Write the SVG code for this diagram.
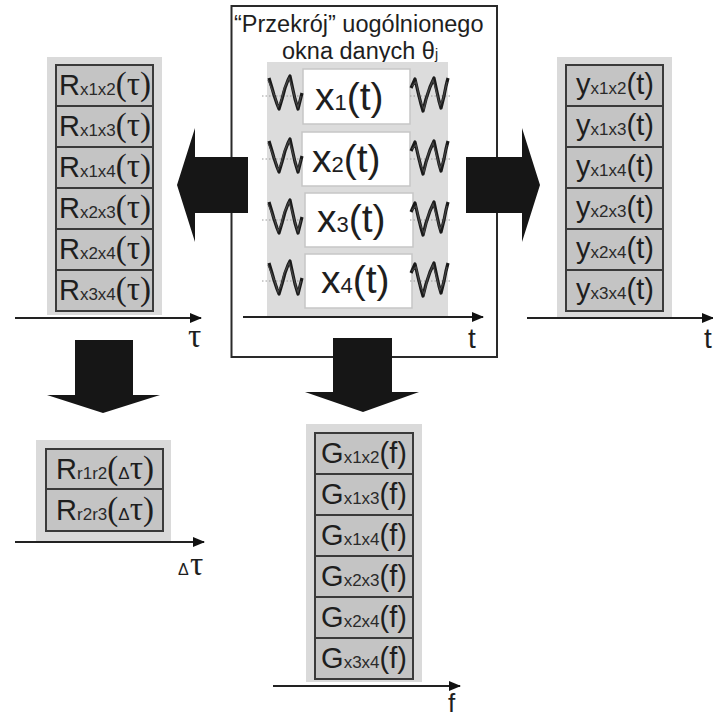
<svg xmlns="http://www.w3.org/2000/svg" width="713" height="717" viewBox="0 0 713 717">
  <style>
    .panel { fill: #dadada; }
    .cell { fill: #c4c4c4; stroke: #3a3a3a; stroke-width: 2; }
    .wcell { fill: #ffffff; stroke: #c6c6c6; stroke-width: 1.5; }
    .frame { fill: none; stroke: #2a2a2a; stroke-width: 2; }
    .axis { stroke: #222; stroke-width: 2; fill: none; marker-end: url(#ah); }
    .block { fill: #161616; }
    .lbl { font-family: "Liberation Sans", Arial, sans-serif; fill: #1e1e1e; }
    .big { font-family: "Liberation Sans", Arial, sans-serif; font-size: 29px; fill: #1e1e1e; }
    .sub { font-size: 17px; fill: #2a2a2a; }
    .sym { font-family: "Liberation Serif", "Times New Roman", serif; font-size: 33px; }
    .xl { font-family: "Liberation Sans", Arial, sans-serif; font-size: 39px; fill: #1e1e1e; }
    .xs { font-size: 22px; }
    .wave { fill: none; stroke: #1a1a1a; stroke-width: 3.2; stroke-linejoin: round; }
    .wave2 { fill: none; stroke: #444; stroke-width: 1.2; }
    .mid { stroke: #9a9a9a; stroke-width: 1; stroke-dasharray: 1.5 2; }
  </style>
  <defs>
    <marker id="ah" viewBox="0 0 12 10" refX="11" refY="5" markerWidth="12" markerHeight="10" markerUnits="userSpaceOnUse" orient="auto">
      <path d="M0,0 L12,5 L0,10 Z" fill="#111"/>
    </marker>
    <!-- noisy oscillation shown on both sides of each signal -->
    <g id="waveL">
      <line class="mid" x1="262" y1="0" x2="304" y2="0"/>
      <polyline class="wave" points="269,-18 272,-8 274,-1 277,8 279,13 282,3 285,-8 288,-16 290,-20 293,-6 295,3 298,13 300,5 302,-3"/>
      <polyline class="wave2" points="268,-16 271,-9 275,1 278,11 281,5 284,-7 289,-18 292,-9 296,6 298,11 301,0"/>
    </g>
    <g id="waveR">
      <line class="mid" x1="410" y1="0" x2="452" y2="0"/>
      <polyline class="wave" points="411,-8 415,-17 418,-4 421,8 423,15 426,3 430,-9 434,-18 437,-4 439,5 441,12 444,0 446,-10 448,-18"/>
      <polyline class="wave2" points="412,-10 416,-14 420,4 424,13 428,-4 433,-16 436,-6 440,9 443,3 447,-14"/>
    </g>
  </defs>

  <!-- central window of data -->
  <g id="window">
    <rect class="frame" x="231.5" y="6" width="265.5" height="351"/>
    <text class="lbl" x="234" y="32" font-size="23.5">“Przekrój” uogólnionego</text>
    <text class="lbl" x="282" y="59" font-size="23.5">okna danych θ<tspan font-size="14">j</tspan></text>
    <rect x="267" y="62" width="181" height="255" fill="#dcdcdc"/>
  </g>

  <g id="x1">
    <rect class="wcell" x="303" y="69" width="107" height="55"/>
    <use href="#waveL" transform="translate(0,96)"/>
    <use href="#waveR" transform="translate(0,96)"/>
    <text class="xl" x="315" y="110">x<tspan class="xs">1</tspan>(t)</text>
  </g>
  <g id="x2">
    <rect class="wcell" x="302" y="132" width="108" height="54"/>
    <use href="#waveL" transform="translate(0,159)"/>
    <use href="#waveR" transform="translate(0,159)"/>
    <text class="xl" x="312" y="172">x<tspan class="xs">2</tspan>(t)</text>
  </g>
  <g id="x3">
    <rect class="wcell" x="305" y="193" width="108" height="54"/>
    <use href="#waveL" transform="translate(0,220)"/>
    <use href="#waveR" transform="translate(0,220)"/>
    <text class="xl" x="317" y="232">x<tspan class="xs">3</tspan>(t)</text>
  </g>
  <g id="x4">
    <rect class="wcell" x="305" y="254" width="107" height="54"/>
    <use href="#waveL" transform="translate(0,281)"/>
    <use href="#waveR" transform="translate(0,281)"/>
    <text class="xl" x="321" y="293">x<tspan class="xs">4</tspan>(t)</text>
  </g>

  <!-- correlation functions R(τ) -->
  <g id="corr">
    <rect class="panel" x="47" y="57" width="115" height="258"/>
    <rect class="cell" x="56" y="65" width="97" height="41"/>
    <rect class="cell" x="56" y="106" width="97" height="41"/>
    <rect class="cell" x="56" y="147" width="97" height="41"/>
    <rect class="cell" x="56" y="188" width="97" height="41"/>
    <rect class="cell" x="56" y="229" width="97" height="41"/>
    <rect class="cell" x="56" y="270" width="97" height="41"/>
    <text class="big" x="105" y="95" text-anchor="middle">R<tspan class="sub">x1x2</tspan><tspan class="sym">(τ)</tspan></text>
    <text class="big" x="105" y="136" text-anchor="middle">R<tspan class="sub">x1x3</tspan><tspan class="sym">(τ)</tspan></text>
    <text class="big" x="105" y="177" text-anchor="middle">R<tspan class="sub">x1x4</tspan><tspan class="sym">(τ)</tspan></text>
    <text class="big" x="105" y="218" text-anchor="middle">R<tspan class="sub">x2x3</tspan><tspan class="sym">(τ)</tspan></text>
    <text class="big" x="105" y="259" text-anchor="middle">R<tspan class="sub">x2x4</tspan><tspan class="sym">(τ)</tspan></text>
    <text class="big" x="105" y="300" text-anchor="middle">R<tspan class="sub">x3x4</tspan><tspan class="sym">(τ)</tspan></text>
  </g>

  <!-- filtered signals y(t) -->
  <g id="filtered">
    <rect class="panel" x="557" y="57" width="115" height="260"/>
    <rect class="cell" x="566" y="65" width="97" height="41"/>
    <rect class="cell" x="566" y="106" width="97" height="41"/>
    <rect class="cell" x="566" y="147" width="97" height="41"/>
    <rect class="cell" x="566" y="188" width="97" height="41"/>
    <rect class="cell" x="566" y="229" width="97" height="41"/>
    <rect class="cell" x="566" y="270" width="97" height="41"/>
    <text class="big" x="615" y="94" text-anchor="middle">y<tspan class="sub">x1x2</tspan>(t)</text>
    <text class="big" x="615" y="135" text-anchor="middle">y<tspan class="sub">x1x3</tspan>(t)</text>
    <text class="big" x="615" y="176" text-anchor="middle">y<tspan class="sub">x1x4</tspan>(t)</text>
    <text class="big" x="615" y="217" text-anchor="middle">y<tspan class="sub">x2x3</tspan>(t)</text>
    <text class="big" x="615" y="258" text-anchor="middle">y<tspan class="sub">x2x4</tspan>(t)</text>
    <text class="big" x="615" y="299" text-anchor="middle">y<tspan class="sub">x3x4</tspan>(t)</text>
  </g>

  <!-- residual correlations R(Δτ) -->
  <g id="residual">
    <rect class="panel" x="36" y="440" width="135" height="101"/>
    <rect class="cell" x="46" y="449" width="117" height="40"/>
    <rect class="cell" x="46" y="489" width="117" height="42"/>
    <text class="big" x="105" y="479" text-anchor="middle">R<tspan class="sub">r1r2</tspan><tspan class="sym">(<tspan font-family="Liberation Sans, Arial, sans-serif" font-size="17">Δ</tspan>τ)</tspan></text>
    <text class="big" x="105" y="520" text-anchor="middle">R<tspan class="sub">r2r3</tspan><tspan class="sym">(<tspan font-family="Liberation Sans, Arial, sans-serif" font-size="17">Δ</tspan>τ)</tspan></text>
  </g>

  <!-- cross spectra G(f) -->
  <g id="spectra">
    <rect class="panel" x="306" y="424" width="116" height="258"/>
    <rect class="cell" x="315" y="433" width="98" height="41"/>
    <rect class="cell" x="315" y="474" width="98" height="41"/>
    <rect class="cell" x="315" y="515" width="98" height="41"/>
    <rect class="cell" x="315" y="556" width="98" height="41"/>
    <rect class="cell" x="315" y="597" width="98" height="41"/>
    <rect class="cell" x="315" y="638" width="98" height="41"/>
    <text class="big" x="364" y="463" text-anchor="middle">G<tspan class="sub">x1x2</tspan>(f)</text>
    <text class="big" x="364" y="504" text-anchor="middle">G<tspan class="sub">x1x3</tspan>(f)</text>
    <text class="big" x="364" y="545" text-anchor="middle">G<tspan class="sub">x1x4</tspan>(f)</text>
    <text class="big" x="364" y="586" text-anchor="middle">G<tspan class="sub">x2x3</tspan>(f)</text>
    <text class="big" x="364" y="627" text-anchor="middle">G<tspan class="sub">x2x4</tspan>(f)</text>
    <text class="big" x="364" y="668" text-anchor="middle">G<tspan class="sub">x3x4</tspan>(f)</text>
  </g>

  <!-- axes and block arrows -->
  <g id="connectors">
    <line class="axis" x1="243" y1="317" x2="483" y2="317"/>
    <text class="lbl" x="468" y="348" font-size="28">t</text>
    <line class="axis" x1="15" y1="318" x2="201" y2="318"/>
    <text class="sym" x="188" y="347" fill="#1e1e1e">τ</text>
    <line class="axis" x1="527" y1="318" x2="713" y2="318"/>
    <text class="lbl" x="704" y="348" font-size="28">t</text>
    <line class="axis" x1="15" y1="542" x2="204" y2="542"/>
    <text class="lbl" x="178" y="575" font-size="16">Δ</text>
    <text class="sym" x="190" y="575" fill="#1e1e1e">τ</text>
    <line class="axis" x1="273" y1="686" x2="460" y2="686"/>
    <text class="lbl" x="448" y="712" font-size="26">f</text>

    <polygon class="block" points="248,157 195,157 195,128 177,185 195,242 195,213 248,213"/>
    <polygon class="block" points="466,157 522,157 522,128 540,185 522,242 522,213 466,213"/>
    <polygon class="block" points="333,338 392,338 392,392 419,392 363,412 305,392 333,392"/>
    <polygon class="block" points="75,340 133,340 133,395 160,395 103,413 47,395 75,395"/>
  </g>
</svg>
